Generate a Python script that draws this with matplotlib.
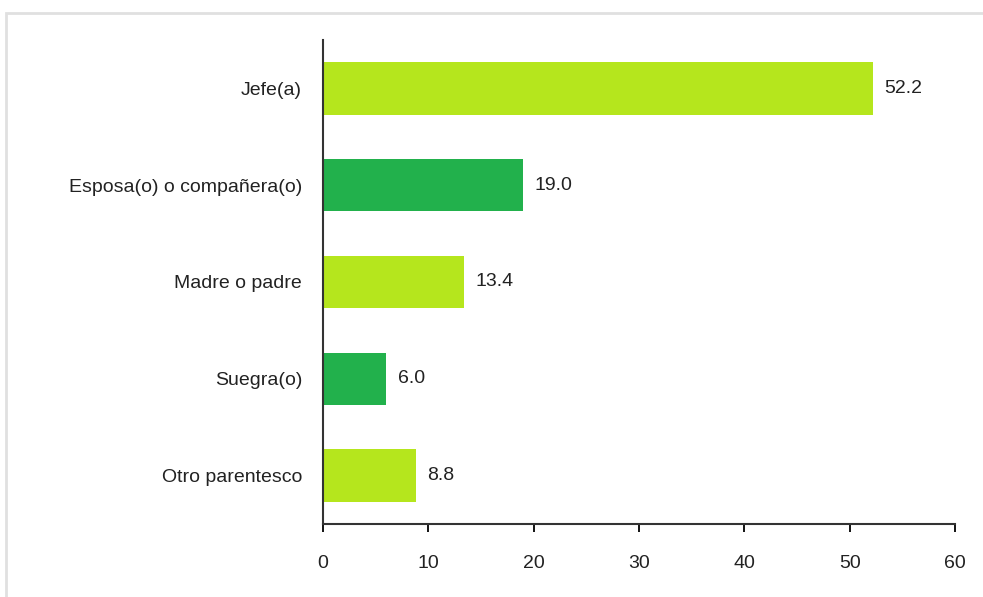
import matplotlib.pyplot as plt
import matplotlib.patches as mpatches

categories = ['Jefe(a)', 'Esposa(o) o compañera(o)', 'Madre o padre', 'Suegra(o)', 'Otro parentesco']
values = [52.2, 19.0, 13.4, 6.0, 8.8]
colors = ['#b5e61d', '#22b14c', '#b5e61d', '#22b14c', '#b5e61d']

plt.rcParams['font.family'] = ['Liberation Sans', 'DejaVu Sans']

fig = plt.figure(figsize=(9.83, 5.97), dpi=100)
ax = fig.add_axes([0.3286, 0.1223, 0.6429, 0.8107])

# light grey frame around the chart area
frame = mpatches.Rectangle((6 / 983, -0.05), 1.1, 1 - 13 / 597 + 0.05,
                           transform=fig.transFigure, fill=False,
                           edgecolor='#e0e0e0', linewidth=2)
fig.patches.append(frame)

pos = list(range(len(categories)))[::-1]
bars = ax.barh(pos, values, height=0.54, color=colors)

for rect, v in zip(bars, values):
    ax.text(v + 1.1, rect.get_y() + rect.get_height() / 2, '%.1f' % v,
            ha='left', va='center', fontsize=14, color='#222222')

ax.set_xlim(0, 60)
ax.set_ylim(-0.5, 4.5)
ax.set_yticks(pos)
ax.set_yticklabels(categories, fontsize=14, color='#222222')
ax.set_xticks(range(0, 61, 10))
ax.tick_params(axis='x', direction='out', length=6, width=1.3, pad=16,
               labelsize=14, labelcolor='#222222')
ax.tick_params(axis='y', length=0, pad=15)

for s in ['top', 'right']:
    ax.spines[s].set_visible(False)
for s in ['left', 'bottom']:
    ax.spines[s].set_linewidth(1.5)
    ax.spines[s].set_color('#333333')

fig.savefig('out.png', dpi=100)
